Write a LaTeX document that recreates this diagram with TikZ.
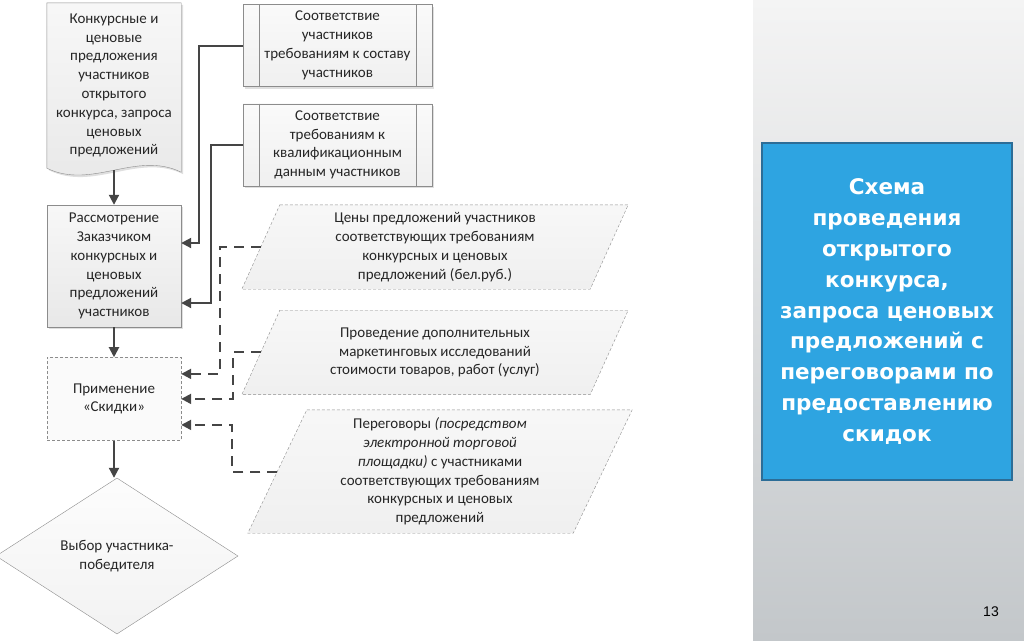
\documentclass[tikz,border=0pt]{standalone}
\usepackage{fontspec}
\setmainfont{Carlito}
\newfontfamily\headfont{DejaVu Sans}
\newfontfamily\pagefont{Liberation Sans}
\usepackage{tikz}
\usetikzlibrary{positioning, calc, arrows.meta, shapes.geometric, shadows, backgrounds}
\definecolor{linegray}{HTML}{454545}
\definecolor{edgegray}{HTML}{8C8C8C}
\definecolor{panelblue}{HTML}{2EA4E1}
\definecolor{paneledge}{HTML}{2C6D97}
\definecolor{paneltop}{HTML}{F4F4F4}
\definecolor{panelmid}{HTML}{E4E5E5}
\definecolor{panelbot}{HTML}{C3C7CA}

\begin{document}
\begin{tikzpicture}[
    x = 1pt, y = -1pt,
    font = \fontsize{15}{18.8}\selectfont, text = black!85,
    block/.style = {
      rectangle, draw = edgegray, thin, top color = black!3, bottom color = black!9,
      minimum width = 134pt, inner sep = 2pt, align = center,
      drop shadow = {opacity = .25, shadow xshift = 2pt, shadow yshift = -2pt}
    },
    predef/.style = {
      block, minimum width = 189pt, minimum height = 82pt,
      top color = black!2, bottom color = black!6
    },
    docshape/.style = {
      draw = edgegray, thin, top color = black!3, bottom color = black!9,
      drop shadow = {opacity = .25, shadow xshift = 2pt, shadow yshift = -2pt}
    },
    doctext/.style = {
      rectangle, minimum width = 134pt, minimum height = 165pt,
      inner sep = 0pt, align = center
    },
    option/.style = {
      rectangle, draw = edgegray, thin, dash pattern = on 3pt off 2pt,
      fill = black!2, minimum width = 134pt, minimum height = 83pt, align = center
    },
    choice/.style = {
      diamond, draw = edgegray, thin, top color = black!1, bottom color = black!5,
      minimum width = 242pt, minimum height = 156pt, inner sep = 0pt, align = center
    },
    inputtext/.style = {
      rectangle, inner sep = 0pt, align = center
    },
    inputbox/.style = {
      draw = edgegray, thin, dash pattern = on 3pt off 2pt,
      top color = black!3, bottom color = black!6
    },
    titlebox/.style = {
      rectangle, draw = paneledge, line width = 1.5pt, fill = panelblue,
      minimum width = 250pt, minimum height = 337pt, text = white, align = center,
      font = \headfont\bfseries\fontsize{21.5}{30.9}\selectfont
    },
    link/.style = {
      draw = linegray, line width = 2pt, -{Triangle[length = 10pt, width = 10pt]}
    },
    hint/.style = {
      link, dash pattern = on 10pt off 7pt
    },
    ]
    \useasboundingbox (0, 0) rectangle (1024, 640);

    % right side panel
    \fill [top color = paneltop, middle color = panelmid, bottom color = panelbot]
      (753, 0) rectangle (1024, 640);
    \node  [titlebox]  (title)  at  (887, 311.5)
      {Схема\\ проведения\\ открытого\\ конкурса,\\ запроса ценовых\\ предложений с\\
       переговорами по\\ предоставлению\\ скидок};
    \node  [font = \pagefont\fontsize{14}{16}\selectfont, text = black]  (page)  at  (991, 612)  {13};

    % main column
    \node  [doctext]  (doc)  at  (114, 85.5)
      {Конкурсные и\\ ценовые\\ предложения\\ участников\\ открытого\\ конкурса, запроса\\ ценовых\\ предложений};
    \coordinate  (docend)  at  (114, 170);
    \node  [block, minimum height = 122pt]  (review)  at  (114, 266)
      {Рассмотрение\\ Заказчиком\\ конкурсных и\\ ценовых\\ предложений\\ участников};
    \node  [option]  (discount)  [below = 30pt of review]  {Применение\\ «Скидки»};
    \node  [choice]  (winner)  at  (117, 556)  {Выбор участника-\\ победителя};

    % requirement boxes
    \node  [predef]  (reqA)  at  (337.5, 45.5)
      {Соответствие\\ участников\\ требованиям к составу\\ участников};
    \node  [predef]  (reqB)  [below = 17pt of reqA]
      {Соответствие\\ требованиям к\\ квалификационным\\ данным участников};
    \foreach \n in {reqA, reqB}
    \draw  [edgegray, thin]  ([xshift = 16pt]\n.north west) -- ([xshift = 16pt]\n.south west)
      ([xshift = -16pt]\n.north east) -- ([xshift = -16pt]\n.south east);

    % data inputs
    \node  [inputtext, minimum width = 348pt, minimum height = 84pt]  (price)  at  (435, 247)
      {Цены предложений участников\\ соответствующих требованиям\\ конкурсных и ценовых\\ предложений (бел.руб.)};
    \node  [inputtext, minimum width = 348pt, minimum height = 84pt]  (market)  [below = 21pt of price]
      {Проведение дополнительных\\ маркетинговых исследований\\ стоимости товаров, работ (услуг)};
    \node  [inputtext, minimum width = 325pt, minimum height = 123pt]  (talks)  at  (440, 471.5)
      {Переговоры \textit{(посредством}\\ \textit{электронной торговой}\\ \textit{площадки)} с участниками\\
       соответствующих требованиям\\ конкурсных и ценовых\\ предложений};

    % shapes behind the texts
    \begin{scope}[on background layer]
    \draw  [docshape]  (doc.north west) -- (doc.north east) -- ($(doc.south east) + (0, 4)$)
      .. controls ($(doc.south east) + (-45, -18)$) and ($(doc.south west) + (45, 22)$) .. (doc.south west) -- cycle;
    \foreach \n/\s in {price/19, market/19, talks/29.5}
    \draw  [inputbox]  ([xshift = \s pt]\n.north west) -- ([xshift = \s pt]\n.north east)
      -- ([xshift = -\s pt]\n.south east) -- ([xshift = -\s pt]\n.south west) -- cycle;
    \end{scope}

    % draw paths
    \draw  [link]  (docend) -- (review);
    \draw  [link]  (review) -- (discount);
    \draw  [link]  (discount.south) -- (discount.south |- winner.north);
    \draw  [link]  (reqA.west) -- ++(-44, 0) |- ($(review.east) + (0, -23)$);
    \draw  [link]  (reqB.west) -- ++(-32, 0) |- ($(review.east) + (0, 37)$);
    \draw  [hint]  (price.west) -- ++(-41, 0) |- ($(discount.east) + (0, -25)$);
    \draw  [hint]  (market.west) -- ++(-28, 0) |- (discount.east);
    \draw  [hint]  (talks.west) -- ++(-45.5, 0) |- ($(discount.east) + (0, 26)$);
\end{tikzpicture}
\end{document}
